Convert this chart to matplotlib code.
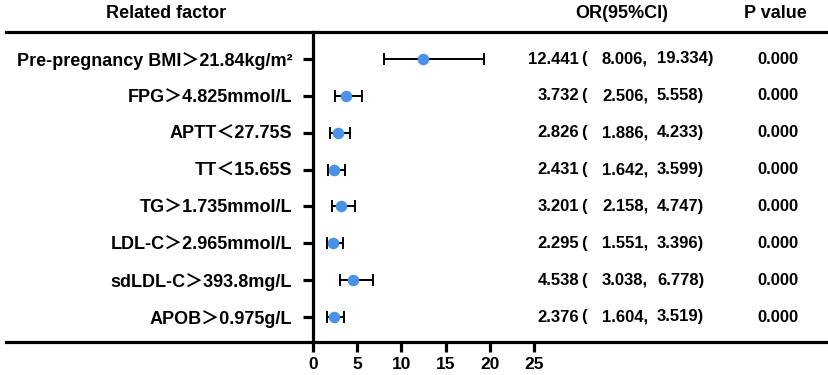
import matplotlib
matplotlib.use("Agg")
import matplotlib.pyplot as plt
from matplotlib.lines import Line2D

factors = ["Pre-pregnancy BMI＞21.84kg/m²", "FPG＞4.825mmol/L", "APTT＜27.75S",
           "TT＜15.65S", "TG＞1.735mmol/L", "LDL-C＞2.965mmol/L",
           "sdLDL-C＞393.8mg/L", "APOB＞0.975g/L"]
or_vals = [12.441, 3.732, 2.826, 2.431, 3.201, 2.295, 4.538, 2.376]
ci_low = [8.006, 2.506, 1.886, 1.642, 2.158, 1.551, 3.038, 1.604]
ci_high = [19.334, 5.558, 4.233, 3.599, 4.747, 3.396, 6.778, 3.519]
p_text = ["0.000"] * 8
xticks = [0, 5, 10, 15, 20, 25]

FAM = ["Liberation Sans", "Noto Sans CJK SC", "DejaVu Sans"]
plt.rcParams['font.family'] = FAM
plt.rcParams['font.weight'] = 'bold'

W, H = 829, 375
fig = plt.figure(figsize=(W / 100, H / 100), dpi=100)

def fx(px):
    return px / W

def fy(py):
    return 1 - py / H

ax_left, ax_right, ax_top, ax_bot = 313, 534, 32, 342
ax = fig.add_axes([fx(ax_left), fy(ax_bot), fx(ax_right - ax_left), (ax_bot - ax_top) / H])
n = len(factors)
ypos = list(range(n, 0, -1))
b = (317 - 59) / (n - 1)
a = 59 + n * b
ax.set_ylim((a - ax_bot) / b, (a - ax_top) / b)
ax.set_xlim(0, 25)

err_lo = [o - l for o, l in zip(or_vals, ci_low)]
err_hi = [h - o for o, h in zip(or_vals, ci_high)]
ax.errorbar(or_vals, ypos, xerr=[err_lo, err_hi], fmt='o', color='black',
            ecolor='black', elinewidth=1.4, capsize=4, capthick=1.4,
            markerfacecolor='#4a92e8', markeredgecolor='#4a92e8', markersize=7.3,
            zorder=3, clip_on=False)

for s in ['top', 'right', 'bottom']:
    ax.spines[s].set_visible(False)
ax.spines['left'].set_linewidth(2.3)
ax.set_yticks(ypos)
ax.set_yticklabels(factors, fontsize=13, fontweight='bold')
ax.tick_params(axis='y', length=7, width=2.3, pad=8)
ax.set_xticks(xticks)
ax.set_xticklabels([str(t) for t in xticks], fontsize=12.5, fontweight='bold')
ax.tick_params(axis='x', length=7, width=2.3, pad=4)
ax.patch.set_visible(False)

for py in (ax_top, ax_bot):
    fig.add_artist(Line2D([fx(6), 1.0], [fy(py), fy(py)], color='black', lw=2.3))

fig.text(fx(166), fy(13), "Related factor", ha='center', va='center', fontsize=13, fontweight='bold')
fig.text(fx(622), fy(13), "OR(95%CI)", ha='center', va='center', fontsize=13, fontweight='bold')
fig.text(fx(775), fy(13), "P value", ha='center', va='center', fontsize=13, fontweight='bold')

fs = 12
for i in range(n):
    py = a - ypos[i] * b
    fig.text(fx(579), fy(py), f"{or_vals[i]:.3f}", ha='right', va='center', fontsize=fs, fontweight='bold')
    fig.text(fx(581), fy(py), "(", ha='left', va='center', fontsize=fs, fontweight='bold')
    fig.text(fx(602), fy(py), f"{ci_low[i]:.3f},", ha='left', va='center', fontsize=fs, fontweight='bold')
    fig.text(fx(657), fy(py), f"{ci_high[i]:.3f})", ha='left', va='center', fontsize=fs, fontweight='bold')
    fig.text(fx(778), fy(py), p_text[i], ha='center', va='center', fontsize=12, fontweight='bold')

fig.savefig("out.png", dpi=100)
